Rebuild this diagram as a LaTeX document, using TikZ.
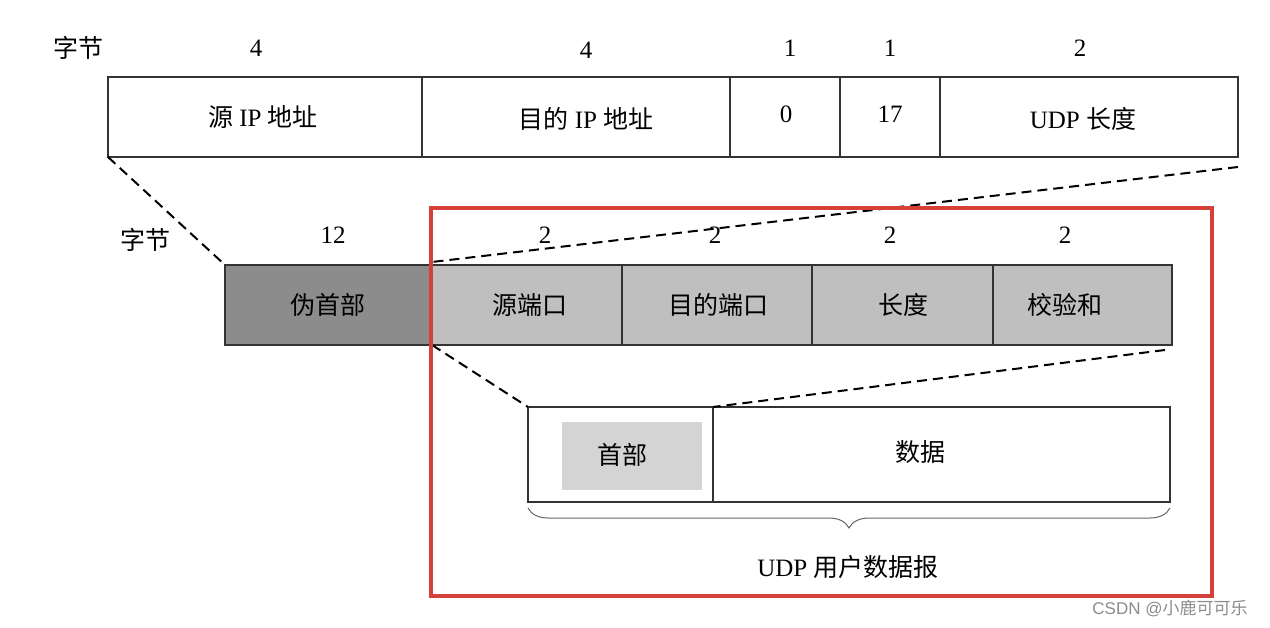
\documentclass[tikz,border=0pt]{standalone}
\usepackage{fontspec}
\setmainfont{Liberation Serif}
\newfontfamily\cjk{Noto Sans CJK SC}
\newfontfamily\wsans{Liberation Sans}
\usetikzlibrary{decorations.pathreplacing}
\begin{document}
\begin{tikzpicture}[x=1pt,y=-1pt,
  lbl/.style={font=\fontsize{25}{29}\selectfont,inner sep=0},
  cell/.style={draw=black!80,line width=1.2pt},
  dl/.style={draw,dashed,line width=2pt,dash pattern=on 10pt off 6pt}]
\useasboundingbox (0,0) rectangle (1270,628);
% top row
\foreach \a/\b in {108/422,422/730,730/840,840/940,940/1238}
  \draw[cell,fill=white] (\a,77) rectangle (\b,157);
\node[lbl] (t1) at (263,117) {{\cjk 源} IP {\cjk 地址}};
\node[lbl] (t2) at (586,119) {{\cjk 目的} IP {\cjk 地址}};
\node[lbl] (t3) at (786,114) {0};
\node[lbl] (t4) at (890,114) {17};
\node[lbl] (t5) at (1083,119) {UDP {\cjk 长度}};
\node[lbl] (b0) at (78,48) {\cjk 字节};
\node[lbl] (n1) at (256,48) {4};
\node[lbl] (n2) at (586,50) {4};
\node[lbl] (n3) at (790,48) {1};
\node[lbl] (n4) at (890,48) {1};
\node[lbl] (n5) at (1080,48) {2};
% second row
\draw[cell,fill=black!45] (225,265) rectangle (432,345);
\foreach \a/\b in {432/622,622/812,812/993,993/1172}
  \draw[cell,fill=black!25] (\a,265) rectangle (\b,345);
\node[lbl] (s0) at (328,305) {\cjk 伪首部};
\node[lbl] (s1) at (530,305) {\cjk 源端口};
\node[lbl] (s2) at (718,305) {\cjk 目的端口};
\node[lbl] (s3) at (903,305) {\cjk 长度};
\node[lbl] (s4) at (1065,305) {\cjk 校验和};
\node[lbl] (b1) at (145,240) {\cjk 字节};
\node[lbl] (m0) at (333,235) {12};
\node[lbl] (m1) at (545,235) {2};
\node[lbl] (m2) at (715,235) {2};
\node[lbl] (m3) at (890,235) {2};
\node[lbl] (m4) at (1065,235) {2};
% third row
\draw[cell,fill=white] (528,407) rectangle (713,502);
\draw[cell,fill=white] (713,407) rectangle (1170,502);
\fill[black!17] (562,422) rectangle (702,490);
\node[lbl] (h) at (622,455) {\cjk 首部};
\node[lbl] (d) at (920,452) {\cjk 数据};
% dashed
\draw[dl] (108,157) -- (225,265);
\draw[dl] (1238,167) -- (432,262);
\draw[dl] (432,345) -- (528,407);
\draw[dl] (1165,350) -- (713,407);
% brace
\draw[decorate,decoration={brace,mirror,amplitude=20pt},line width=1pt,black!60] (528,508) -- (1170,508);
\node[lbl] (u) at (848,567) {UDP {\cjk 用户数据报}};
% red
\draw[line width=3.5pt,draw={rgb,255:red,214;green,64;blue,58}] (431,208) rectangle (1212,596);
\node[font=\fontsize{17}{20}\selectfont\wsans,text=black!45,inner sep=0] (w) at (1170,608) {CSDN @{\cjk 小鹿可可乐}};
\end{tikzpicture}
\end{document}
